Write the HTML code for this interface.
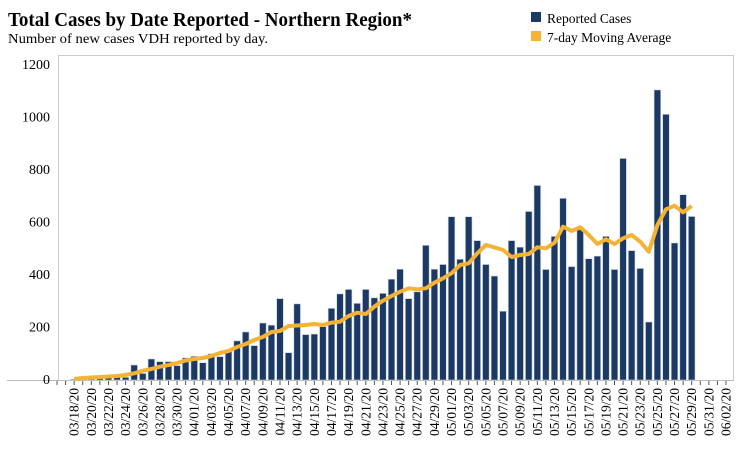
<!DOCTYPE html>
<html><head><meta charset="utf-8"><style>
html,body{margin:0;padding:0;background:#fff;}
svg{display:block;}
text{font-family:"Liberation Serif",serif;fill:#000;}
</style></head><body>
<svg id="c" width="749" height="449" xmlns="http://www.w3.org/2000/svg">
<text x="8" y="26" font-size="20" font-weight="bold" textLength="404" lengthAdjust="spacingAndGlyphs">Total Cases by Date Reported - Northern Region*</text>
<text x="8" y="43" font-size="13.5" textLength="260" lengthAdjust="spacingAndGlyphs">Number of new cases VDH reported by day.</text>
<rect x="531" y="12" width="10" height="10" fill="#1c3963"/>
<text x="547" y="23" font-size="13.5">Reported Cases</text>
<rect x="531" y="31" width="10" height="10" fill="#f5b335"/>
<text x="547" y="42" font-size="13.5">7-day Moving Average</text>
<line x1="58" y1="55.5" x2="734" y2="55.5" stroke="#ccc"/>
<line x1="733.5" y1="55" x2="733.5" y2="380" stroke="#ccc"/>
<line x1="58.5" y1="55" x2="58.5" y2="381" stroke="#ccc"/>
<line x1="7" y1="380.5" x2="734" y2="380.5" stroke="#bbb"/>
<g id="yl" font-size="14" text-anchor="end"></g>
<g id="bars"></g>
<g id="ticks"></g>
<polyline id="ma" fill="none" stroke="#f5b335" stroke-width="4" stroke-linejoin="round"/>
<g id="xl" font-size="13.5"></g>
</svg>
<script>
var d=[0,0,3,3,5,15,10,12,10,57,25,80,70,70,55,84,90,66,100,89,110,149,183,131,217,209,310,104,290,173,175,203,273,328,345,292,345,313,330,384,422,310,336,513,422,440,622,460,622,531,440,396,262,531,506,642,741,421,547,692,432,572,462,472,547,421,844,493,425,221,1105,1012,522,706,623];
var ma=[379,378,377.5,377,376.5,376,375,373.3,370.7,369,366.7,365,363,360.5,359,358,356,353,351,347,344,340,337,332,331,326,325.5,325,324,325,322.7,321.7,316,312.7,314,306.7,300.7,296,291.7,288.3,289.3,288.3,282.7,278.3,273.3,265,263.3,253.3,245,247.3,250,257,255,254,247.3,248.3,242.7,226.7,231,227.3,235,244,239.3,244,238.3,235,241.7,251.7,225,209.3,205.7,212.3,206];
var ns="http://www.w3.org/2000/svg";
function el(t,a,p,txt){var e=document.createElementNS(ns,t);for(var k in a)e.setAttribute(k,a[k]);if(txt!=null)e.textContent=txt;document.getElementById(p).appendChild(e);return e;}
function cx(i){return 57+8.577*i;}
function Y(v){return 380-v*0.2625;}
for(var v=0;v<=1200;v+=200){el('text',{x:50,y:Y(v)+4},'yl',v);}
for(var i=0;i<d.length;i++){if(d[i]>0){var y=Y(d[i]);el('rect',{x:cx(i)-3.3,y:y,width:6.6,height:380-y,fill:'#1c3963',stroke:'#c9d3e0','stroke-width':0.6},'bars');}}
var start=new Date(2020,2,16);
for(var i=0;i<79;i++){var x=cx(i);el('line',{x1:x,y1:381,x2:x,y2:385,stroke:'#555','stroke-width':1},'ticks');
 if(i>=2&&i%2==0){var dt=new Date(start.getTime()+i*86400000);var s=('0'+(dt.getMonth()+1)).slice(-2)+'/'+('0'+dt.getDate()).slice(-2)+'/20';
 el('text',{x:0,y:0,transform:'translate('+(x+4.5)+',388) rotate(-90)','text-anchor':'end'},'xl',s);}}
var pts=[];for(var j=0;j<ma.length;j++){pts.push(cx(j+2).toFixed(1)+','+ma[j]);}
document.getElementById('ma').setAttribute('points',pts.join(' '));
</script>
</body></html>
